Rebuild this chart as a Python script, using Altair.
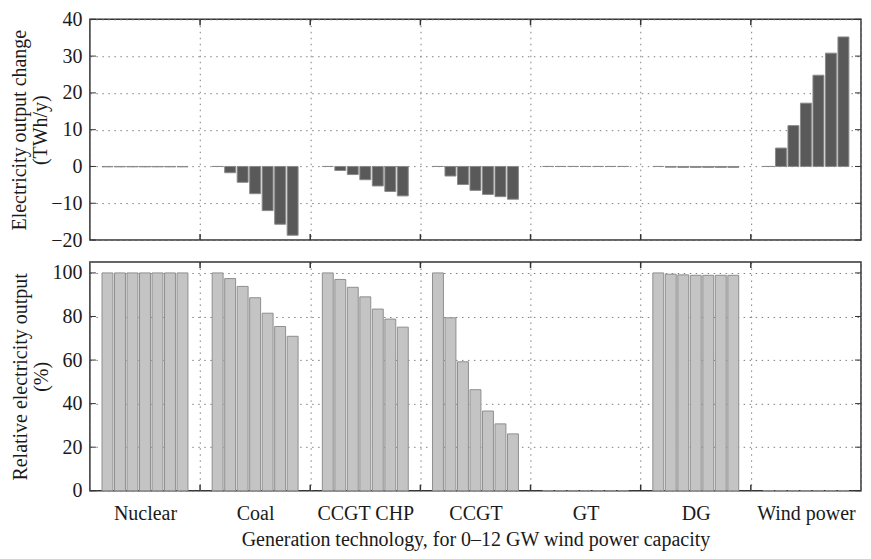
import altair as alt
import pandas as pd

techs = ["Nuclear", "Coal", "CCGT CHP", "CCGT", "GT", "DG", "Wind power"]
wind_gw = [0, 2, 4, 6, 8, 10, 12]

# Electricity output change (TWh/y)
chg_nuclear = [-0.1, -0.1, -0.1, -0.1, -0.1, -0.1, -0.1]
chg_coal = [0.0, -1.7, -4.3, -7.4, -12.0, -15.7, -18.7]
chg_ccgt_chp = [0.0, -1.1, -2.2, -3.6, -5.3, -6.8, -8.0]
chg_ccgt = [0.0, -2.6, -4.9, -6.5, -7.6, -8.2, -8.9]
chg_gt = [0.0, 0.0, 0.0, 0.0, 0.0, 0.0, 0.0]
chg_dg = [0.0, -0.2, -0.25, -0.25, -0.25, -0.25, -0.25]
chg_wind = [0.0, 5.0, 11.1, 17.2, 24.8, 30.8, 35.2]

# Relative electricity output (%)
rel_nuclear = [100, 100, 100, 100, 100, 100, 100]
rel_coal = [100, 97.4, 93.8, 88.6, 81.5, 75.4, 70.9]
rel_ccgt_chp = [100, 97.0, 93.4, 89.0, 83.4, 78.8, 75.1]
rel_ccgt = [100, 79.4, 59.2, 46.4, 36.6, 30.7, 26.1]
rel_gt = [0, 0, 0, 0, 0, 0, 0]
rel_dg = [100, 99.4, 99.1, 98.9, 98.9, 98.9, 98.9]
rel_wind = [0, 0, 0, 0, 0, 0, 0]

top_ticks = [-20, -10, 0, 10, 20, 30, 40]
bottom_ticks = [0, 20, 40, 60, 80, 100]

chg_series = [chg_nuclear, chg_coal, chg_ccgt_chp, chg_ccgt, chg_gt, chg_dg, chg_wind]
rel_series = [rel_nuclear, rel_coal, rel_ccgt_chp, rel_ccgt, rel_gt, rel_dg, rel_wind]


def long_df(series):
    rows = []
    for t, vals in zip(techs, series):
        for gw, v in zip(wind_gw, vals):
            rows.append({"tech": t, "gw": gw, "value": v})
    return pd.DataFrame(rows)


df_top = long_df(chg_series)
df_bot = long_df(rel_series)

FONT = "Liberation Serif"
FS = 20
W = 772
TICK = 6


def panel(df, ytitle, domain, yticks, fill, stroke, show_x, H):
    xaxis = alt.Axis(
        tickBand="extent", grid=True, gridDash=[1.5, 4.5], gridColor="#808080",
        ticks=False, domain=False, labels=show_x, labelAngle=0,
        labelFontSize=FS, labelPadding=13 if show_x else 0, labelColor="#1a1a1a",
        title="Generation technology, for 0\u201312 GW wind power capacity" if show_x else None,
        titleFontSize=FS, titleFontWeight="normal", titlePadding=6, titleColor="#1a1a1a",
    )
    yaxis = alt.Axis(
        values=yticks, grid=True, gridDash=[1.5, 4.5], gridColor="#808080",
        ticks=False, domain=False, labelFontSize=FS, labelPadding=8, labelColor="#1a1a1a",
        title=ytitle, titleFontSize=FS, titleFontWeight="normal", titlePadding=0,
        titleLineHeight=21, titleColor="#1a1a1a",
    )
    xs = alt.Scale(domain=techs, paddingInner=0, paddingOuter=0)
    ys = alt.Scale(domain=domain, nice=False, zero=False)
    bars = alt.Chart(df).mark_bar(fill=fill, stroke=stroke, strokeWidth=1).encode(
        x=alt.X("tech:N", sort=techs, scale=xs, axis=xaxis),
        xOffset=alt.XOffset("gw:N", scale=alt.Scale(paddingInner=0.127, paddingOuter=0.97)),
        y=alt.Y("value:Q", scale=ys, axis=yaxis),
        y2=alt.datum(domain[0] if domain[0] >= 0 else 0),
    )
    tdf = pd.DataFrame({"value": yticks})
    yl = alt.Chart(tdf).mark_rule(color="#333333", strokeWidth=1).encode(
        y=alt.Y("value:Q", scale=ys, axis=yaxis), x=alt.value(0), x2=alt.value(TICK))
    yr = alt.Chart(tdf).mark_rule(color="#333333", strokeWidth=1).encode(
        y=alt.Y("value:Q", scale=ys, axis=yaxis), x=alt.value(W - TICK), x2=alt.value(W))
    bdf = pd.DataFrame({"tech": techs[1:]})
    xb = alt.Chart(bdf).mark_rule(color="#333333", strokeWidth=1.5).encode(
        x=alt.X("tech:N", sort=techs, scale=xs, axis=xaxis, bandPosition=0),
        y=alt.value(H - TICK), y2=alt.value(H))
    xt = alt.Chart(bdf).mark_rule(color="#333333", strokeWidth=1.5).encode(
        x=alt.X("tech:N", sort=techs, scale=xs, axis=xaxis, bandPosition=0),
        y=alt.value(0), y2=alt.value(TICK))
    return alt.layer(bars, yl, yr, xb, xt).properties(width=W, height=H)


top = panel(df_top, ["Electricity output change", "(TWh/y)"], [-20, 40], top_ticks,
            "#595959", "#8a8a8a", False, 221)
bot = panel(df_bot, ["Relative electricity output", "(%)"], [0, 105], bottom_ticks,
            "#c4c4c4", "#8f8f8f", True, 229)

chart = alt.vconcat(top, bot, spacing=9).properties(
    padding={"left": 0, "top": 0, "right": 0, "bottom": 0}
).configure(font=FONT).configure_view(stroke="#333333", strokeWidth=1.5)

chart.save("out.html", embed_options={"renderer": "svg", "actions": False})
